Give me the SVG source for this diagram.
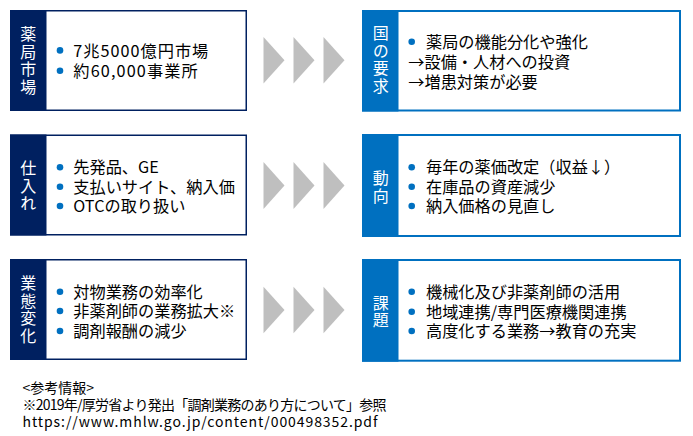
<svg xmlns="http://www.w3.org/2000/svg" width="693" height="436" viewBox="0 0 693 436">
<style>
text{font-family:"Noto Sans CJK JP","Noto Sans",sans-serif;}
.lbox{fill:#fff;stroke:#002060;stroke-width:1.5;}
.lbar{fill:#002060;}
.rbox{fill:#fff;stroke:#0070C0;stroke-width:2;}
.rbar{fill:#0070C0;}
.vl{fill:#fff;font-size:16px;text-anchor:middle;writing-mode:vertical-rl;letter-spacing:1.5px;}
.bt{fill:#000;font-size:16.2px;}
.dot{fill:#0070C0;}
.chev{fill:#BFBFBF;}
.note{fill:#000;font-size:14px;}
</style>
<rect width="693" height="436" fill="#fff"/>

<g id="node-market">
<rect class="lbox" x="10.75" y="10.75" width="235.5" height="99.5"/>
<rect class="lbar" x="10" y="10" width="36.5" height="101"/>
<text class="vl" x="28.3" y="61">薬局市場</text>
<circle class="dot" cx="60" cy="50.4" r="3.3"/><text class="bt" x="73.3" y="56.5" textLength="135" lengthAdjust="spacing">7兆5000億円市場</text>
<circle class="dot" cx="60" cy="70.8" r="3.3"/><text class="bt" x="73.3" y="77" textLength="124.5" lengthAdjust="spacing">約60,000事業所</text>
</g>

<g id="node-purchase">
<rect class="lbox" x="10.75" y="135.25" width="235.5" height="99.5"/>
<rect class="lbar" x="10" y="134.5" width="36.5" height="101"/>
<text class="vl" x="28.3" y="186.3">仕入れ</text>
<circle class="dot" cx="60" cy="167.3" r="3.3"/><text class="bt" x="73.3" y="173.4">先発品、GE</text>
<circle class="dot" cx="60" cy="186.7" r="3.3"/><text class="bt" x="73.3" y="192.8">支払いサイト、納入価</text>
<circle class="dot" cx="60" cy="206" r="3.3"/><text class="bt" x="73.3" y="212.1">OTCの取り扱い</text>
</g>

<g id="node-business">
<rect class="lbox" x="10.75" y="259.75" width="235.5" height="99.5"/>
<rect class="lbar" x="10" y="259" width="36.5" height="101"/>
<text class="vl" x="28.3" y="310.4">業態変化</text>
<circle class="dot" cx="60" cy="291.7" r="3.3"/><text class="bt" x="73.3" y="297.8">対物業務の効率化</text>
<circle class="dot" cx="60" cy="311" r="3.3"/><text class="bt" x="73.3" y="317.1">非薬剤師の業務拡大※</text>
<circle class="dot" cx="60" cy="331" r="3.3"/><text class="bt" x="73.3" y="337.1">調剤報酬の減少</text>
</g>

<g id="node-gov">
<rect class="rbox" x="363" y="11" width="317" height="99.5"/>
<rect class="rbar" x="362" y="10" width="36.5" height="101.5"/>
<text class="vl" x="380.7" y="60.2">国の要求</text>
<circle class="dot" cx="411.7" cy="41.7" r="3.3"/><text class="bt" x="426" y="47.8">薬局の機能分化や強化</text>
<text class="bt" x="408.3" y="68.2">→設備・人材への投資</text>
<text class="bt" x="408.3" y="87.5">→増患対策が必要</text>
</g>

<g id="node-trend">
<rect class="rbox" x="363" y="135" width="317" height="101"/>
<rect class="rbar" x="362" y="134" width="36.5" height="103"/>
<text class="vl" x="380.7" y="187.5">動向</text>
<circle class="dot" cx="411.7" cy="167.3" r="3.3"/><text class="bt" x="426" y="173.4">毎年の薬価改定（収益↓）</text>
<circle class="dot" cx="411.7" cy="186.7" r="3.3"/><text class="bt" x="426" y="192.8">在庫品の資産減少</text>
<circle class="dot" cx="411.7" cy="206" r="3.3"/><text class="bt" x="426" y="212.1">納入価格の見直し</text>
</g>

<g id="node-issue">
<rect class="rbox" x="363" y="260" width="317" height="100.7"/>
<rect class="rbar" x="362" y="259" width="36.5" height="102.7"/>
<text class="vl" x="380.7" y="312.4">課題</text>
<circle class="dot" cx="411.7" cy="291.7" r="3.3"/><text class="bt" x="426" y="297.8">機械化及び非薬剤師の活用</text>
<circle class="dot" cx="411.7" cy="311.7" r="3.3"/><text class="bt" x="426" y="317.8">地域連携/専門医療機関連携</text>
<circle class="dot" cx="411.7" cy="331" r="3.3"/><text class="bt" x="426" y="337.1">高度化する業務→教育の充実</text>
</g>

<g id="connectors">
<path class="chev" d="M263.5,37 L284.5,60.3 L263.5,83.5 Z"/>
<path class="chev" d="M293.5,37 L314.5,60.3 L293.5,83.5 Z"/>
<path class="chev" d="M323.5,37 L344.5,60.3 L323.5,83.5 Z"/>
<path class="chev" d="M263.5,162 L284.5,185.5 L263.5,209 Z"/>
<path class="chev" d="M293.5,162 L314.5,185.5 L293.5,209 Z"/>
<path class="chev" d="M323.5,162 L344.5,185.5 L323.5,209 Z"/>
<path class="chev" d="M263.5,286.7 L284.5,310 L263.5,333.3 Z"/>
<path class="chev" d="M293.5,286.7 L314.5,310 L293.5,333.3 Z"/>
<path class="chev" d="M323.5,286.7 L344.5,310 L323.5,333.3 Z"/>
</g>

<g id="notes">
<text class="note" x="22.5" y="393">&lt;参考情報&gt;</text>
<text class="note" x="22.5" y="410" textLength="364" lengthAdjust="spacing">※2019年/厚労省より発出「調剤業務のあり方について」参照</text>
<text class="note" x="22.5" y="427" textLength="355" lengthAdjust="spacing">https://www.mhlw.go.jp/content/000498352.pdf</text>
</g>
</svg>
